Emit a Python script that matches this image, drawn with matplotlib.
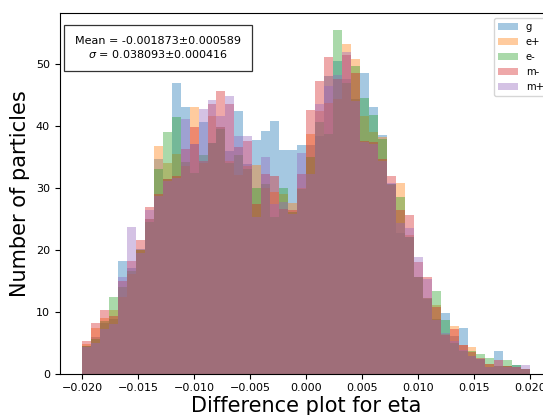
import numpy as np
import matplotlib
matplotlib.use("Agg")
import matplotlib.pyplot as plt

# binning of the eta difference
range_lo, range_hi = -0.02, 0.02
n_bins = 50

labels = ["g", "e+", "e-", "m-", "m+"]

counts_g = [4.5, 5.9, 8.1, 8.8, 18.1, 17.0, 20.1, 25.0, 34.6, 31.4,
            46.8, 43.0, 37.0, 40.5, 37.2, 39.8, 35.9, 42.3, 33.8, 37.7,
            39.1, 40.8, 36.0, 36.0, 36.9, 36.8, 38.3, 48.0, 50.4, 47.5,
            44.3, 48.4, 43.0, 38.5, 30.6, 22.6, 22.0, 15.6, 12.0, 8.8,
            9.8, 6.0, 7.4, 2.9, 2.4, 1.0, 3.7, 1.2, 1.3, 0.8]
counts_ep = [4.8, 7.3, 9.0, 10.3, 12.3, 16.0, 20.0, 25.0, 36.7, 34.0,
             35.4, 33.5, 43.0, 34.0, 41.6, 39.8, 34.3, 32.0, 33.5, 33.7,
             30.0, 29.2, 28.9, 27.5, 30.0, 38.6, 42.3, 43.7, 44.3, 53.1,
             50.8, 41.5, 38.9, 38.2, 30.4, 30.7, 22.3, 15.6, 12.1, 11.0,
             6.3, 7.6, 4.6, 4.2, 2.4, 1.5, 1.2, 1.2, 1.0, 0.8]
counts_em = [4.5, 5.5, 8.5, 12.3, 14.0, 16.5, 20.0, 24.5, 33.0, 39.0,
             41.4, 34.1, 32.4, 35.3, 37.2, 39.5, 34.0, 35.2, 33.0, 30.0,
             30.5, 25.2, 30.0, 26.0, 29.8, 35.0, 40.5, 38.6, 55.4, 46.8,
             49.6, 44.4, 41.7, 37.8, 30.6, 28.4, 22.0, 15.6, 12.1, 13.3,
             8.6, 5.0, 3.6, 3.6, 3.1, 2.5, 1.2, 2.2, 1.4, 0.8]
counts_mm = [5.2, 8.1, 10.3, 9.2, 15.0, 18.1, 21.6, 26.8, 29.0, 31.4,
             31.9, 36.2, 39.7, 34.3, 43.5, 45.6, 43.4, 36.6, 37.5, 27.4,
             32.2, 31.9, 26.5, 26.3, 32.2, 42.5, 47.1, 51.0, 47.5, 51.3,
             48.4, 37.5, 37.4, 34.6, 31.9, 26.3, 25.5, 18.0, 15.6, 10.8,
             6.2, 7.1, 4.6, 3.4, 2.5, 1.5, 2.2, 1.2, 1.0, 0.8]
counts_mp = [4.3, 5.0, 7.2, 8.0, 15.6, 23.6, 19.5, 26.3, 28.7, 31.0,
             31.5, 41.0, 37.0, 42.6, 44.1, 41.6, 44.8, 38.3, 38.3, 25.2,
             34.9, 27.4, 27.6, 25.8, 35.6, 32.2, 43.4, 46.4, 48.1, 51.8,
             44.0, 37.3, 37.0, 34.3, 30.8, 24.2, 23.5, 18.8, 15.3, 8.6,
             6.5, 5.2, 3.8, 2.9, 2.4, 1.0, 1.2, 1.0, 1.0, 1.4]

mean_text = "Mean = -0.001873±0.000589\n$\\sigma$ = 0.038093±0.000416"

edges = np.linspace(range_lo, range_hi, n_bins + 1)
centers = 0.5 * (edges[:-1] + edges[1:])

fig = plt.figure(figsize=(5.43, 4.15), dpi=100)
ax = fig.add_axes([0.1098, 0.1, 0.908, 0.869])

for counts, label in zip([counts_g, counts_ep, counts_em, counts_mm, counts_mp], labels):
    ax.hist(centers, bins=edges, weights=counts, alpha=0.4, label=label)

ax.set_xlabel("Difference plot for eta", fontsize=15, labelpad=2)
ax.set_ylabel("Number of particles", fontsize=15)
ax.tick_params(axis="both", labelsize=8)

ax.text(0.1996, 0.902, mean_text, transform=ax.transAxes, ha="center", va="center",
        fontsize=8, bbox=dict(boxstyle="square,pad=1", facecolor="white",
                              edgecolor="#333333", linewidth=0.9))

ax.legend(loc="upper right", fontsize=7.2)

fig.savefig("out.png", dpi=100)
